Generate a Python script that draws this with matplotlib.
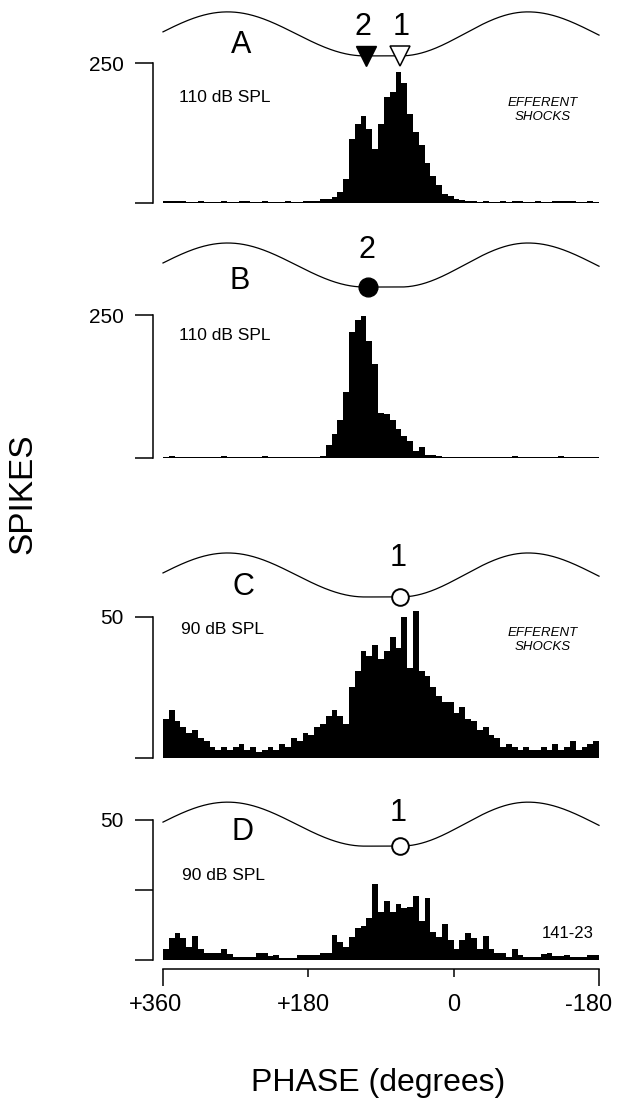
import numpy as np
import matplotlib
matplotlib.use("Agg")
import matplotlib.pyplot as plt
from matplotlib.transforms import ScaledTranslation

plt.rcParams["font.family"] = ["Liberation Sans", "DejaVu Sans"]

W, H = 621, 1099

# 75 bins of 7.2 deg, from +360 (left) down to -180 (right)
bin_width = 7.2
bin_left = np.linspace(360, -180, 76)[:-1]

spikes_a = [4, 4, 3, 3, 2, 2, 3, 2, 2, 2, 3, 2, 2, 3, 3, 2, 2, 3, 2, 2, 2, 3, 2, 2, 3, 4,
            4, 7, 8, 10, 19, 43, 114, 141, 155, 133, 96, 141, 189, 199, 234, 214, 159,
            126, 104, 72, 49, 32, 16, 13, 7, 5, 4,
            3, 2, 3, 2, 2, 3, 2, 4, 3, 2, 2, 3, 2, 2, 4, 3, 4, 3, 2, 2, 3, 2]
spikes_b = [2, 3, 2, 2, 1, 1, 2, 1, 1, 1, 3, 1, 1, 1, 1, 1, 2, 3, 1, 1, 1, 1, 1, 1, 1, 2,
            2, 3, 22, 42, 67, 115, 221, 241, 248, 205, 165, 78, 77, 67, 51, 39, 30, 12, 19, 6, 5,
            3, 2, 2, 2, 2, 1, 1, 1, 1, 1, 1, 1, 1, 3, 1, 1, 1, 1, 2, 1, 1, 3, 1, 2, 1, 1, 1, 1]
spikes_c = [14, 17, 13, 11, 9, 10, 7, 6, 4, 3, 4, 3, 4, 5, 3, 4, 2, 3, 4, 3, 5, 4, 7, 6, 9,
            8, 11, 12, 15, 17, 15, 12,
            25, 31, 38, 36, 40, 35, 38, 43, 39, 50, 32, 52, 31, 29, 25, 22, 20, 20, 16, 18,
            14, 13, 10, 11, 8, 7, 4, 5, 4, 3, 4, 3, 3, 4, 3, 5, 3, 4, 6, 3, 4, 5, 6]
spikes_d = [4, 8, 9.5, 8, 4.5, 8.5, 4, 2.4, 2.4, 2.4, 4, 2, 1, 1, 1, 1, 2.6, 2.6, 1.4, 1.8,
            0.6, 0.6, 0.6, 1.8, 1.8, 1.8, 1.8, 2.4, 2.4, 8.8, 6.5, 4.8, 8.3, 11.3, 12, 15, 27, 17,
            21, 17, 20, 18.5, 19, 23, 14, 22, 10, 8.3, 12.7, 7, 4, 7, 9.5, 8, 4, 8.6, 3.8,
            2.4, 2.4, 1.2, 3.8, 1.8, 1, 1, 1, 2, 2.6, 1.4, 1.4, 1.8, 1.2, 1.2, 1.2, 1.8, 1.8]

# stimulus waveform drawn above each histogram (phase of its extremes)
peak_left = 280
trough_start, trough_end = 110, 66
peak_right = -92

panels = [
    dict(spikes=spikes_a, base=203, top=5, ytop=353.6, ymax=250, yticks=[0, 250],
         wc=302, wa=39.3),
    dict(spikes=spikes_b, base=458, top=235, ytop=390, ymax=250, yticks=[0, 250],
         wc=337.5, wa=38.5),
    dict(spikes=spikes_c, base=758, top=540, ytop=77.3, ymax=50, yticks=[0, 50],
         wc=64.9, wa=7.8),
    dict(spikes=spikes_d, base=960, top=795, ytop=58.9, ymax=50, yticks=[0, 25, 50],
         wc=48.5, wa=7.85),
]


def wave_level(ph):
    half_l = peak_left - trough_start
    half_r = trough_end - peak_right
    lvl = np.full_like(ph, -1.0)
    m = ph >= trough_start
    lvl[m] = -np.cos(np.pi * (ph[m] - trough_start) / half_l)
    m = (ph < trough_end) & (ph >= peak_right)
    lvl[m] = -np.cos(np.pi * (trough_end - ph[m]) / half_r)
    m = ph < peak_right
    lvl[m] = np.cos(np.pi * (peak_right - ph[m]) / half_l)
    return lvl


def px_text(x, y, s, **kw):
    fig.text(x / W, 1 - y / H, s, **kw)


fig = plt.figure(figsize=(W / 100, H / 100), dpi=100)
axes = []
phase = np.linspace(360, -180, 600)
for p in panels:
    ax = fig.add_axes([163 / W, 1 - p["base"] / H, (599 - 163) / W, (p["base"] - p["top"]) / H])
    ax.bar(bin_left, p["spikes"], width=-bin_width, align="edge", color="black", linewidth=0)
    ax.plot(phase, p["wc"] + p["wa"] * wave_level(phase), color="black", lw=0.9, clip_on=False)
    ax.set_xlim(360, -180)
    ax.set_ylim(0, p["ytop"])
    for s in ["top", "right", "bottom"]:
        ax.spines[s].set_visible(False)
    ax.spines["left"].set_position(("outward", 7.2))
    ax.spines["left"].set_bounds(0, p["ymax"])
    ax.spines["left"].set_linewidth(1.1)
    ax.set_yticks(p["yticks"])
    ax.set_yticklabels([""] * (len(p["yticks"]) - 1) + [str(p["ymax"])])
    ax.tick_params(axis="y", direction="out", length=13, width=1.1, pad=8, labelsize=15)
    ax.set_xticks([])
    ax.patch.set_alpha(0)
    axes.append(ax)

ax_a, ax_b, ax_c, ax_d = axes
lvl_tr = -1
ax_a.plot([trough_start - 1], [302 + 39.3 * lvl_tr], marker="v", ms=14, color="black", clip_on=False)
ax_a.plot([trough_end], [302 + 39.3 * lvl_tr], marker="v", ms=14, mfc="white", mec="black",
          mew=1.1, clip_on=False)
ax_b.plot([106], [337.5 + 38.5 * lvl_tr], marker="o", ms=13.5, color="black", clip_on=False)
ax_c.plot([67], [64.9 + 7.8 * lvl_tr], marker="o", ms=12, mfc="white", mec="black",
          mew=1.4, clip_on=False)
ax_d.plot([67], [48.5 + 7.85 * lvl_tr], marker="o", ms=12, mfc="white", mec="black",
          mew=1.4, clip_on=False)

# x axis under panel D
ax_d.spines["bottom"].set_visible(True)
ax_d.spines["bottom"].set_position(("outward", 6.5))
ax_d.spines["bottom"].set_bounds(360, -180)
ax_d.spines["bottom"].set_linewidth(1.1)
ax_d.set_xticks([360, -180])
ax_d.set_xticklabels(["+360", "-180"])
ax_d.set_xticks([180, 0], minor=True)
ax_d.set_xticklabels(["+180", "0"], minor=True)
ax_d.tick_params(axis="x", which="major", direction="out", length=12, width=1.1, pad=6,
                 labelsize=17)
ax_d.tick_params(axis="x", which="minor", direction="out", length=6, width=1.1, pad=12,
                 labelsize=17)
# signs hang to the left of the tick, as in the original
shifts = {"+360": -7, "-180": -10, "+180": -5, "0": 0}
for lab in ax_d.get_xticklabels(which="both"):
    dx = shifts.get(lab.get_text(), 0)
    lab.set_transform(lab.get_transform() + ScaledTranslation(dx / 100, 0, fig.dpi_scale_trans))

big = dict(fontsize=22, ha="center", va="center")
px_text(241, 45, "A", **big)
px_text(240, 281, "B", **big)
px_text(243, 587, "C", **big)
px_text(243, 832, "D", **big)
px_text(363, 27, "2", **big)
px_text(401, 27, "1", **big)
px_text(367, 250, "2", **big)
px_text(398, 558, "1", **big)
px_text(398, 813, "1", **big)

spl = dict(fontsize=12.5, ha="left", va="center")
px_text(179, 98, "110 dB SPL", **spl)
px_text(179, 335, "110 dB SPL", **spl)
px_text(181, 629, "90 dB SPL", **spl)
px_text(182, 875, "90 dB SPL", **spl)

eff = dict(fontsize=9.5, ha="center", va="center", style="italic", linespacing=1.2)
px_text(543, 110, "EFFERENT\nSHOCKS", **eff)
px_text(543, 640, "EFFERENT\nSHOCKS", **eff)
px_text(568, 934, "141-23", fontsize=12, ha="center", va="center")

px_text(23, 494, "SPIKES", fontsize=24, rotation=90, ha="center", va="center")
px_text(378, 1083, "PHASE (degrees)", fontsize=23, ha="center", va="center")

fig.savefig("out.png", dpi=100)
